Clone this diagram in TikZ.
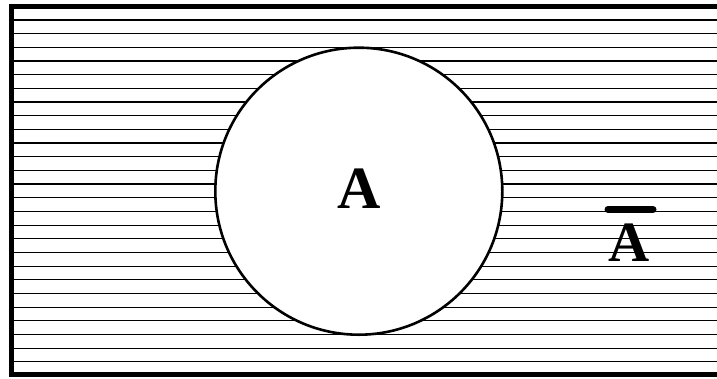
\documentclass[tikz,border=0pt]{standalone}
\usepackage{fontspec}
\setmainfont{Liberation Serif}
\usepackage{tikz}
\usetikzlibrary{positioning}
\tikzset{
  frame/.style={draw=black,line width=5pt},
  hatch/.style={draw=black,line width=1.1pt},
  setcirc/.style={draw=black,fill=white,circle,line width=2.6pt,
                  minimum size=287pt,inner sep=0pt},
  setlbl/.style={font=\fontsize{60}{60}\selectfont\bfseries,inner sep=0pt,anchor=base},
  overbar/.style={draw=black,line width=7pt,line cap=round},
}
\begin{document}
\begin{tikzpicture}[x=1pt,y=-1pt]
  \useasboundingbox (0,0) rectangle (717,378);
  \clip (0,0) rectangle (717,378);
  % horizontal hatching of the universe
  \foreach \i in {0,...,25}
    \draw[hatch] (14,20+13.67*\i) -- (720,20+13.67*\i);
  \draw[frame] (11.5,6.5) rectangle (725,374.5);
  % the set A
  \node[setcirc] (setA) at (358.8,191.2) {};
  \node[setlbl] (lblA) at (359,208.3) {A};
  % complement
  \node[setlbl,font=\fontsize{57}{57}\selectfont\bfseries] (lblAc) at (628.7,261) {A};
  \path[overbar] (608,209.5) -- (653,209.5);
\end{tikzpicture}
\end{document}
